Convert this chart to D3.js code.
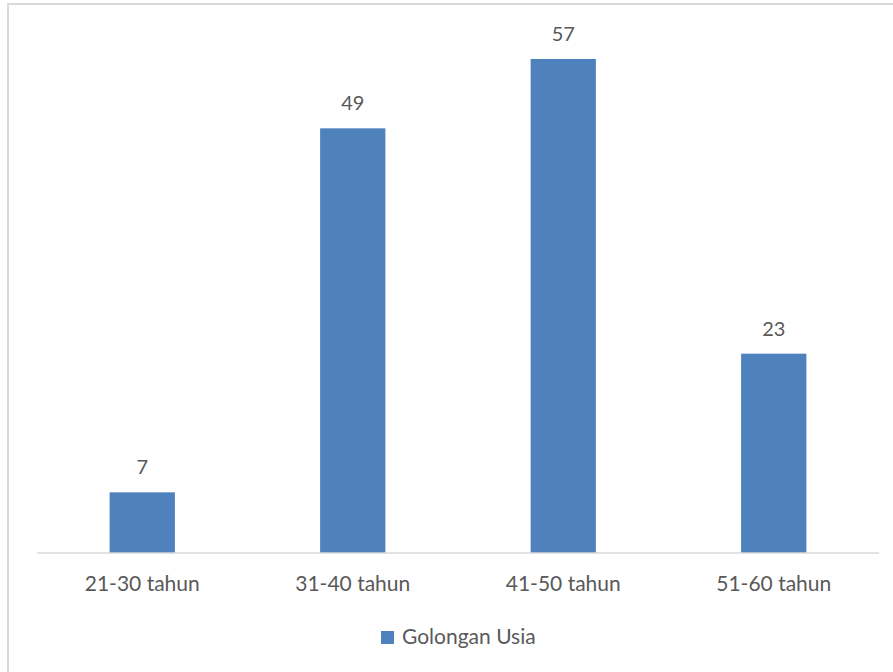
<!DOCTYPE html>
<html>
<head>
<meta charset="utf-8">
<script src="https://cdn.jsdelivr.net/npm/d3@7"></script>
<style>
  html, body { margin: 0; padding: 0; background: #fff; }
  svg { display: block; }
  text { font-family: Lato, "Open Sans", sans-serif; fill: #595959; }
</style>
</head>
<body>
<script>
// Age groups and respondent counts
const categories = ["21-30 tahun", "31-40 tahun", "41-50 tahun", "51-60 tahun"];
const values = [7, 49, 57, 23];
const seriesName = "Golongan Usia";

const W = 893, H = 672;
const barColor = "#4f81bd";
const fontStack = "Lato, 'Open Sans', sans-serif";

const svg = d3.select("body").append("svg")
  .attr("width", W).attr("height", H);

// Chart frame
svg.append("rect")
  .attr("x", 8).attr("y", 4)
  .attr("width", W + 10).attr("height", H + 10)
  .attr("fill", "#fff")
  .attr("stroke", "#d9d9d9").attr("stroke-width", 2);

const plot = { left: 37, right: 879, top: 33, bottom: 553 };

const x = d3.scaleBand()
  .domain(categories)
  .range([plot.left, plot.right])
  .paddingInner(0.69)
  .paddingOuter(0.345);

const y = d3.scaleLinear()
  .domain([0, 60])
  .range([plot.bottom, plot.top]);

// Bars
svg.append("g").selectAll("rect")
  .data(values)
  .join("rect")
  .attr("x", (d, i) => x(categories[i]))
  .attr("y", d => y(d))
  .attr("width", x.bandwidth())
  .attr("height", d => y(0) - y(d))
  .attr("fill", barColor);

// Value labels
svg.append("g").selectAll("text")
  .data(values)
  .join("text")
  .attr("x", (d, i) => x(categories[i]) + x.bandwidth() / 2)
  .attr("y", d => y(d) - 18)
  .attr("text-anchor", "middle")
  .attr("font-size", 20)
  .text(d => d);

// Category axis
const xAxis = svg.append("g")
  .attr("transform", `translate(0,${plot.bottom})`)
  .call(d3.axisBottom(x).tickSize(0).tickPadding(23));
xAxis.select(".domain").attr("stroke", "#d9d9d9").attr("stroke-width", 1.5)
  .attr("d", `M${plot.left},0H${plot.right}`);
xAxis.selectAll("text")
  .attr("font-size", 21)
  .style("font-family", fontStack)
  .attr("fill", "#595959");

// Legend
const legend = svg.append("g").attr("transform", "translate(381,631)");
legend.append("rect")
  .attr("width", 13).attr("height", 13)
  .attr("fill", barColor);
legend.append("text")
  .attr("x", 21).attr("y", 13)
  .attr("font-size", 21)
  .text(seriesName);
</script>
</body>
</html>
